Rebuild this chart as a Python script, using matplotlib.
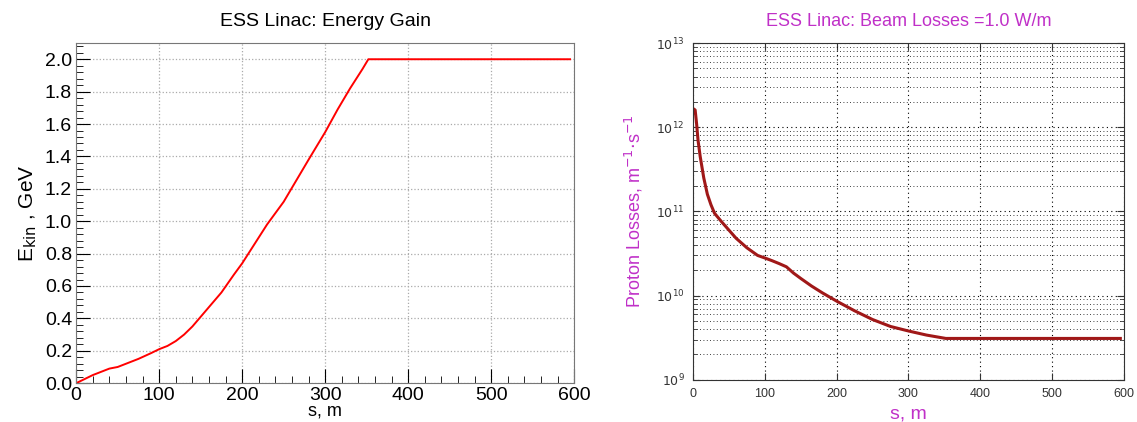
import numpy as np
import matplotlib.pyplot as plt
from matplotlib.ticker import MultipleLocator, LogLocator, NullFormatter, FuncFormatter

plt.rcParams['font.family'] = ['Liberation Sans', 'DejaVu Sans']

# Energy gain along the linac
s_energy = [0, 10, 20, 30, 40, 50, 60, 75, 90, 100, 110, 120, 130, 140, 150,
            160, 175, 190, 200, 215, 230, 250, 265, 280, 300, 315, 330, 345, 352, 595]
e_kin = [0.0, 0.025, 0.05, 0.07, 0.09, 0.10, 0.12, 0.15, 0.185, 0.21, 0.23, 0.26,
         0.30, 0.35, 0.41, 0.47, 0.56, 0.67, 0.74, 0.86, 0.98, 1.12, 1.25, 1.38,
         1.55, 1.69, 1.82, 1.94, 2.0, 2.0]

# Proton losses for 1 W/m
s_loss = [0, 1, 3, 5, 7, 10, 15, 20, 25, 30, 40, 50, 60, 75, 90, 100, 110, 120,
          130, 140, 150, 165, 180, 200, 225, 250, 275, 300, 325, 352, 595]
p_loss = [1.5e12, 1.65e12, 1.6e12, 1.1e12, 7e11, 4.5e11, 2.5e11, 1.6e11, 1.2e11,
          9.5e10, 7.5e10, 6e10, 4.8e10, 3.7e10, 3.0e10, 2.8e10, 2.6e10, 2.4e10,
          2.2e10, 1.85e10, 1.6e10, 1.3e10, 1.08e10, 8.6e9, 6.6e9, 5.2e9, 4.3e9,
          3.8e9, 3.4e9, 3.1e9, 3.1e9]

fig = plt.figure(figsize=(11.37, 4.22), dpi=100)

# ---- left panel
ax1 = fig.add_axes([0.067, 0.092, 0.438, 0.806])
ax1.plot(s_energy, e_kin, color='#ff0000', lw=1.4)
ax1.set_xlim(0, 600)
ax1.set_ylim(0, 2.1)
ax1.xaxis.set_major_locator(MultipleLocator(100))
ax1.xaxis.set_minor_locator(MultipleLocator(20))
ax1.yaxis.set_major_locator(MultipleLocator(0.2))
ax1.yaxis.set_minor_locator(MultipleLocator(0.04))
ax1.yaxis.set_major_formatter(FuncFormatter(lambda v, p: f'{v:.1f}'))
ax1.tick_params(which='both', direction='in', labelsize=14, pad=3)
ax1.tick_params(which='major', length=10)
ax1.tick_params(which='minor', length=5)
ax1.grid(True, which='major', color='#aaaaaa', linestyle=':', lw=0.9)
for sp in ax1.spines.values():
    sp.set_color('#777777')
ax1.set_title('ESS Linac: Energy Gain', fontsize=14, pad=12)
ax1.set_xlabel('s, m', fontsize=13, labelpad=-1)
ax1.set_ylabel('E$_{\\mathrm{kin}}$ , GeV', fontsize=15, labelpad=4)

# ---- right panel
mag = '#c030c8'
ax2 = fig.add_axes([0.6095, 0.1, 0.379, 0.798])
ax2.semilogy(s_loss, p_loss, color='#a01818', lw=2.2)
ax2.set_xlim(0, 600)
ax2.set_ylim(1e9, 1e13)
ax2.xaxis.set_major_locator(MultipleLocator(100))
ax2.yaxis.set_major_locator(LogLocator(base=10, numticks=10))
ax2.yaxis.set_minor_locator(LogLocator(base=10, subs=np.arange(2, 10), numticks=10))
ax2.yaxis.set_minor_formatter(NullFormatter())
ax2.yaxis.set_major_formatter(FuncFormatter(lambda v, p: '$10^{%d}$' % round(np.log10(v))))
ax2.tick_params(which='both', direction='in', top=True, right=True,
                labelsize=9, colors='#333333', pad=6)
ax2.tick_params(which='major', length=5)
ax2.tick_params(which='minor', length=3)
ax2.grid(True, which='major', color='black', linestyle=(0, (1, 3)), lw=0.8)
ax2.grid(True, which='minor', axis='y', color='black', linestyle=(0, (1, 3)), lw=0.6)
for sp in ax2.spines.values():
    sp.set_color('#333333')
ax2.set_title('ESS Linac: Beam Losses =1.0 W/m', fontsize=13, color=mag, pad=12)
ax2.set_xlabel('s, m', fontsize=14, color=mag, labelpad=4)
ax2.set_ylabel('Proton Losses, m$^{\\mathrm{-1}}$$\\cdot$s$^{\\mathrm{-1}}$',
               fontsize=13, color=mag, labelpad=8)

fig.savefig('out.png', dpi=100)
